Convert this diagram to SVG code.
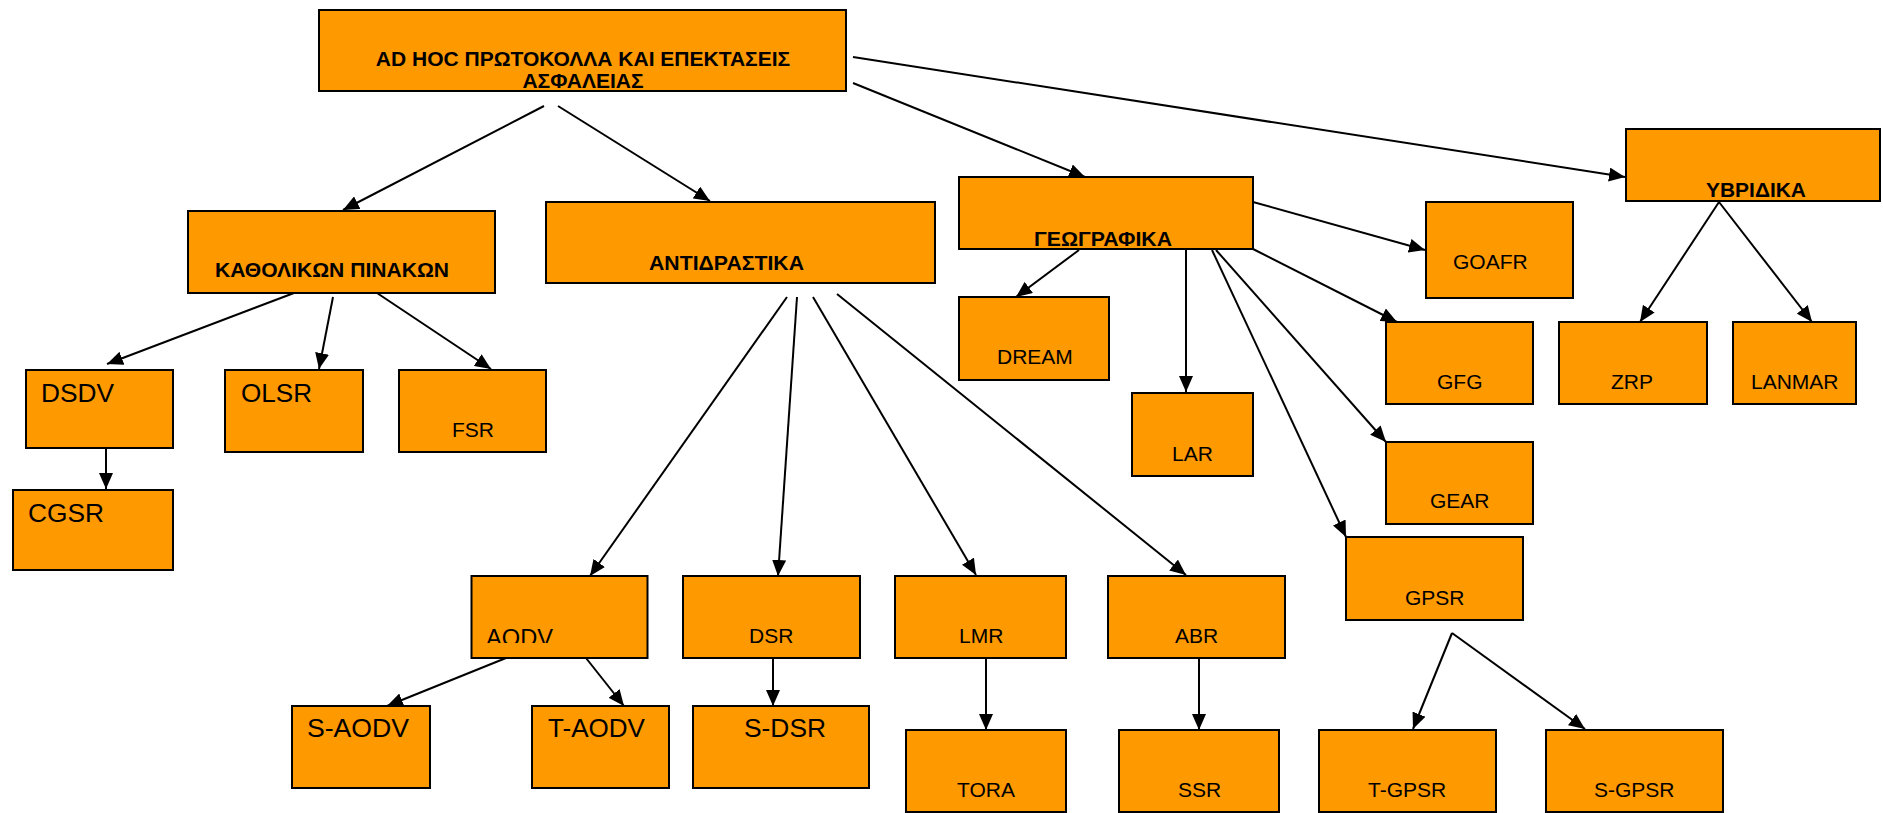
<svg xmlns="http://www.w3.org/2000/svg" width="1883" height="813" viewBox="0 0 1883 813">
<defs>
<style>
.box{fill:#FF9900;stroke:#000;stroke-width:2}
.t{font-family:"Liberation Sans",Arial,sans-serif;fill:#000}
.b{font-weight:bold;font-size:21px}
.m{font-size:21px}
.l{font-size:25px}
.c{stroke:#000;stroke-width:2;fill:none;marker-end:url(#ah)}
</style>
<marker id="ah" markerUnits="userSpaceOnUse" markerWidth="18" markerHeight="14" refX="16" refY="7" orient="auto">
<path d="M0,0 L16,7 L0,14 z" fill="#000"/>
</marker>
<clipPath id="aodvclip"><rect x="471" y="576" width="177" height="67"/></clipPath>
</defs>
<rect width="1883" height="813" fill="#fff"/>
<g id="connectors">
<line class="c" x1="544" y1="106" x2="343" y2="210"/>
<line class="c" x1="558" y1="106" x2="710" y2="201"/>
<line class="c" x1="853" y1="83" x2="1085" y2="177"/>
<line class="c" x1="853" y1="57" x2="1625" y2="177"/>
<line class="c" x1="294" y1="293" x2="107" y2="364"/>
<line class="c" x1="333" y1="297" x2="319" y2="369"/>
<line class="c" x1="377" y1="293" x2="491" y2="369"/>
<line class="c" x1="106" y1="442" x2="106" y2="489"/>
<line class="c" x1="787" y1="297" x2="590" y2="576"/>
<line class="c" x1="797" y1="297" x2="778" y2="576"/>
<line class="c" x1="813" y1="297" x2="976" y2="575"/>
<line class="c" x1="837" y1="294" x2="1186" y2="575"/>
<line class="c" x1="506" y1="658" x2="387" y2="706"/>
<line class="c" x1="586" y1="658" x2="624" y2="706"/>
<line class="c" x1="773" y1="658" x2="773" y2="706"/>
<line class="c" x1="986" y1="658" x2="986" y2="730"/>
<line class="c" x1="1199" y1="658" x2="1199" y2="730"/>
<line class="c" x1="1079" y1="250" x2="1016" y2="297"/>
<line class="c" x1="1186" y1="250" x2="1186" y2="392"/>
<line class="c" x1="1212" y1="250" x2="1346" y2="537"/>
<line class="c" x1="1216" y1="250" x2="1386" y2="442"/>
<line class="c" x1="1253" y1="249" x2="1397" y2="322"/>
<line class="c" x1="1253" y1="202" x2="1425" y2="250"/>
<line class="c" x1="1719" y1="202" x2="1640" y2="322"/>
<line class="c" x1="1719" y1="202" x2="1812" y2="322"/>
<line class="c" x1="1452" y1="633" x2="1413" y2="729"/>
<line class="c" x1="1452" y1="633" x2="1585" y2="729"/>
</g>
<g id="root"><rect class="box" x="319" y="10" width="527" height="81"/>
<text class="t b" x="583" y="66" text-anchor="middle">AD HOC ΠΡΩΤΟΚΟΛΛΑ ΚΑΙ ΕΠΕΚΤΑΣΕΙΣ</text>
<text class="t b" x="583" y="88" text-anchor="middle">ΑΣΦΑΛΕΙΑΣ</text></g>
<g id="kath"><rect class="box" x="188" y="211" width="307" height="82"/>
<text class="t b" x="215" y="277" textLength="234" lengthAdjust="spacingAndGlyphs">ΚΑΘΟΛΙΚΩΝ ΠΙΝΑΚΩΝ</text></g>
<g id="anti"><rect class="box" x="546" y="202" width="389" height="81"/>
<text class="t b" x="649" y="270" textLength="155" lengthAdjust="spacingAndGlyphs">ΑΝΤΙΔΡΑΣΤΙΚΑ</text></g>
<g id="geo"><rect class="box" x="959" y="177" width="294" height="72"/>
<text class="t b" x="1034" y="246" textLength="138" lengthAdjust="spacingAndGlyphs">ΓΕΩΓΡΑΦΙΚΑ</text></g>
<g id="hyb"><rect class="box" x="1626" y="129" width="254" height="72"/>
<text class="t b" x="1706" y="197" textLength="100" lengthAdjust="spacingAndGlyphs">ΥΒΡΙΔΙΚΑ</text></g>
<g id="goafr"><rect class="box" x="1426" y="202" width="147" height="96"/>
<text class="t m" x="1453" y="269">GOAFR</text></g>
<g id="dream"><rect class="box" x="959" y="297" width="150" height="83"/>
<text class="t m" x="997" y="364">DREAM</text></g>
<g id="lar"><rect class="box" x="1132" y="393" width="121" height="83"/>
<text class="t m" x="1172" y="461">LAR</text></g>
<g id="gfg"><rect class="box" x="1386" y="322" width="147" height="82"/>
<text class="t m" x="1437" y="389">GFG</text></g>
<g id="gear"><rect class="box" x="1386" y="442" width="147" height="82"/>
<text class="t m" x="1430" y="508">GEAR</text></g>
<g id="gpsr"><rect class="box" x="1346" y="537" width="177" height="83"/>
<text class="t m" x="1405" y="605">GPSR</text></g>
<g id="zrp"><rect class="box" x="1559" y="322" width="148" height="82"/>
<text class="t m" x="1611" y="389">ZRP</text></g>
<g id="lanmar"><rect class="box" x="1733" y="322" width="123" height="82"/>
<text class="t m" x="1751" y="389">LANMAR</text></g>
<g id="dsdv"><rect class="box" x="26" y="370" width="147" height="78"/>
<text class="t l" x="41" y="402" textLength="73" lengthAdjust="spacingAndGlyphs">DSDV</text></g>
<g id="olsr"><rect class="box" x="225" y="370" width="138" height="82"/>
<text class="t l" x="241" y="402" textLength="71" lengthAdjust="spacingAndGlyphs">OLSR</text></g>
<g id="fsr"><rect class="box" x="399" y="370" width="147" height="82"/>
<text class="t m" x="452" y="437">FSR</text></g>
<g id="cgsr"><rect class="box" x="13" y="490" width="160" height="80"/>
<text class="t l" x="28" y="522" textLength="76" lengthAdjust="spacingAndGlyphs">CGSR</text></g>
<g id="aodv"><rect class="box" x="471.5" y="576" width="176" height="82"/>
<text class="t" font-size="23" x="486" y="646" clip-path="url(#aodvclip)" textLength="67" lengthAdjust="spacingAndGlyphs">AODV</text></g>
<g id="dsr"><rect class="box" x="683" y="576" width="177" height="82"/>
<text class="t m" x="749" y="643">DSR</text></g>
<g id="lmr"><rect class="box" x="895" y="576" width="171" height="82"/>
<text class="t m" x="959" y="643">LMR</text></g>
<g id="abr"><rect class="box" x="1108" y="576" width="177" height="82"/>
<text class="t m" x="1175" y="643">ABR</text></g>
<g id="saodv"><rect class="box" x="292" y="706" width="138" height="82"/>
<text class="t l" x="307" y="737" textLength="102" lengthAdjust="spacingAndGlyphs">S-AODV</text></g>
<g id="taodv"><rect class="box" x="532" y="706" width="137" height="82"/>
<text class="t l" x="548" y="737" textLength="97" lengthAdjust="spacingAndGlyphs">T-AODV</text></g>
<g id="sdsr"><rect class="box" x="693" y="706" width="176" height="82"/>
<text class="t l" x="744" y="737" textLength="82" lengthAdjust="spacingAndGlyphs">S-DSR</text></g>
<g id="tora"><rect class="box" x="906" y="730" width="160" height="82"/>
<text class="t m" x="957" y="797">TORA</text></g>
<g id="ssr"><rect class="box" x="1119" y="730" width="160" height="82"/>
<text class="t m" x="1178" y="797">SSR</text></g>
<g id="tgpsr"><rect class="box" x="1319" y="730" width="177" height="82"/>
<text class="t m" x="1368" y="797">T-GPSR</text></g>
<g id="sgpsr"><rect class="box" x="1546" y="730" width="177" height="82"/>
<text class="t m" x="1594" y="797">S-GPSR</text></g>
</svg>
